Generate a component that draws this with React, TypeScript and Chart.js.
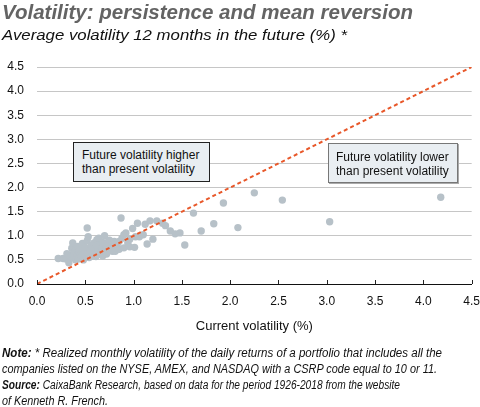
import { useEffect, useLayoutEffect, useRef } from "react"
import { Chart, registerables } from "chart.js"

Chart.register(...registerables)

// Volatilidad actual (eje X) y volatilidad media 12 meses después (eje Y), en %
const currentVol = [
  0.22, 0.27, 0.30, 0.31, 0.33, 0.35, 0.36, 0.37, 0.38, 0.38, 0.40, 0.40, 0.42, 0.42, 0.43, 0.44,
  0.45, 0.45, 0.46, 0.47, 0.48, 0.48, 0.50, 0.50, 0.51, 0.52, 0.52, 0.53, 0.53, 0.54, 0.55, 0.55,
  0.56, 0.57, 0.58, 0.58, 0.59, 0.60, 0.61, 0.62, 0.62, 0.63, 0.64, 0.65, 0.66, 0.67, 0.68, 0.68,
  0.70, 0.70, 0.72, 0.72, 0.74, 0.75, 0.76, 0.78, 0.78, 0.80, 0.81, 0.83, 0.85, 0.85, 0.87, 0.88,
  0.90, 0.90, 0.92, 0.94, 0.96, 0.96, 0.99, 1.01, 1.02, 1.04, 1.06, 1.10, 1.12, 1.14, 1.17, 1.20,
  1.24, 1.30, 1.33, 1.38, 1.43, 1.48, 1.53, 1.62, 1.70, 1.83, 1.93, 2.08, 2.25, 2.54, 3.03, 4.18,
]
const futureVol = [
  0.53, 0.53, 0.52, 0.63, 0.44, 0.58, 0.74, 0.85, 0.55, 0.66, 0.50, 0.70, 0.60, 0.78, 0.52, 0.65,
  0.72, 0.60, 0.57, 0.84, 0.62, 0.50, 0.68, 0.76, 0.58, 1.16, 0.90, 0.98, 0.63, 0.55, 0.72, 0.62,
  0.80, 0.66, 0.58, 0.70, 0.85, 0.74, 0.57, 0.92, 0.80, 0.68, 0.95, 0.80, 0.62, 0.74, 0.86, 0.58,
  1.00, 0.68, 0.62, 0.78, 0.88, 0.91, 0.72, 0.82, 0.68, 0.88, 0.68, 0.78, 0.88, 0.72, 1.37, 0.95,
  1.02, 0.75, 1.06, 0.85, 0.93, 0.77, 1.15, 0.76, 0.98, 1.26, 0.98, 1.02, 1.24, 0.83, 1.31, 0.93,
  1.31, 1.26, 1.21, 1.10, 1.04, 1.06, 0.81, 1.47, 1.10, 1.25, 1.68, 1.17, 1.89, 1.74, 1.29, 1.80,
]

// Línea de 45 grados (volatilidad futura = actual)
const diagonalX = [0, 4.5]
const diagonalY = [0, 4.5]

const axisMin = 0
const axisMax = 4.5
const axisStep = 0.5

const fontFamily = "'Liberation Sans', Arial, sans-serif"

// Marcas del eje X hacia dentro del gráfico
const innerTicks = {
  id: "innerTicks",
  afterDatasetsDraw(chart: Chart) {
    const x = chart.scales.x
    const ctx = chart.ctx
    const y0 = chart.chartArea.bottom
    ctx.save()
    ctx.strokeStyle = "#222"
    ctx.lineWidth = 1
    for (const t of x.ticks) {
      const px = Math.round(x.getPixelForValue(t.value)) + 0.5
      ctx.beginPath()
      ctx.moveTo(px, y0)
      ctx.lineTo(px, y0 - 4)
      ctx.stroke()
    }
    ctx.restore()
  },
}

function VolatilityChart() {
  const chartRef = useRef<HTMLCanvasElement>(null)
  const chartInstance = useRef<Chart | null>(null)

  useEffect(() => {
    if (!chartRef.current) return
    if (chartInstance.current) chartInstance.current.destroy()

    const ctx = chartRef.current.getContext("2d")
    if (!ctx) return

    chartInstance.current = new Chart(ctx, {
      type: "scatter",
      data: {
        datasets: [
          {
            type: "line",
            label: "45º",
            data: diagonalX.map((x, i) => ({ x, y: diagonalY[i] })),
            borderColor: "#e8582a",
            borderWidth: 2,
            borderDash: [4, 3],
            pointRadius: 0,
            fill: false,
            order: 0,
          },
          {
            label: "Volatility",
            data: currentVol.map((x, i) => ({ x, y: futureVol[i] })),
            backgroundColor: "#b7c1c8",
            borderWidth: 0,
            pointRadius: 3.7,
            order: 1,
          },
        ],
      },
      options: {
        responsive: false,
        animation: false,
        layout: { padding: { top: 67, right: 1.5, bottom: 73, left: 0 } },
        plugins: {
          legend: { display: false },
          tooltip: { enabled: false },
        },
        scales: {
          x: {
            type: "linear",
            min: axisMin,
            max: axisMax,
            afterFit: (s) => {
              s.height = 50
            },
            ticks: {
              stepSize: axisStep,
              padding: 0,
              color: "#111",
              font: { family: fontFamily, size: 12 },
              callback: (v) => Number(v).toFixed(1),
              maxRotation: 0,
            },
            // marcas invisibles: sólo separan las etiquetas del eje
            grid: { display: false, drawTicks: true, tickLength: 10 },
            border: { display: true, color: "#111", width: 1 },
            title: {
              display: true,
              text: "Current volatility (%)",
              color: "#111",
              font: { family: fontFamily, size: 13 },
              padding: { top: 0, bottom: 0 },
            },
          },
          y: {
            type: "linear",
            min: axisMin,
            max: axisMax,
            afterFit: (s) => {
              s.width = 37
            },
            ticks: {
              stepSize: axisStep,
              padding: 13,
              color: "#111",
              font: { family: fontFamily, size: 12 },
              callback: (v) => Number(v).toFixed(1),
            },
            grid: { color: "#c6c6c6", lineWidth: 1, drawTicks: false },
            border: { display: false },
          },
        },
      },
      plugins: [innerTicks],
    })

    return () => {
      if (chartInstance.current) {
        chartInstance.current.destroy()
        chartInstance.current = null
      }
    }
  }, [])

  return <canvas ref={chartRef} width={480} height={407} style={{ position: "absolute", left: 0, top: 0 }} />
}

// Texto estirado/comprimido horizontalmente hasta un ancho dado
function FitLine({ width, children }: { width: number; children: React.ReactNode }) {
  const ref = useRef<HTMLSpanElement>(null)
  useLayoutEffect(() => {
    const el = ref.current
    if (!el) return
    el.style.transform = "none"
    const w = el.getBoundingClientRect().width
    if (w > 0) el.style.transform = `scaleX(${width / w})`
  }, [width])
  return (
    <span ref={ref} style={{ display: "inline-block", whiteSpace: "nowrap", transformOrigin: "0 0" }}>
      {children}
    </span>
  )
}

const boxStyle: React.CSSProperties = {
  position: "absolute",
  boxSizing: "border-box",
  background: "#e9eef2",
  fontFamily,
  fontSize: 12,
  lineHeight: "14px",
  color: "#111",
  whiteSpace: "nowrap",
}

const noteStyle: React.CSSProperties = {
  position: "absolute",
  left: 2,
  top: 345,
  fontFamily,
  fontStyle: "italic",
  fontSize: 12,
  lineHeight: "16px",
  color: "#111",
}

export default function App() {
  return (
    <div style={{ position: "absolute", left: 0, top: 0, width: 480, height: 407, background: "#fff", overflow: "hidden" }}>
      <VolatilityChart />
      <div
        style={{
          position: "absolute",
          left: 2,
          top: 2,
          fontFamily,
          fontWeight: "bold",
          fontStyle: "italic",
          fontSize: 20,
          lineHeight: "20px",
          color: "#646464",
        }}
      >
        <FitLine width={411}>Volatility: persistence and mean reversion</FitLine>
      </div>
      <div
        style={{
          position: "absolute",
          left: 2,
          top: 27,
          fontFamily,
          fontStyle: "italic",
          fontSize: 15.5,
          lineHeight: "16px",
          color: "#111",
        }}
      >
        <FitLine width={345}>Average volatility 12 months in the future (%) *</FitLine>
      </div>
      <div style={{ ...boxStyle, left: 73, top: 142, width: 137, height: 40, border: "1px solid #222", padding: "5px 0 0 8px" }}>
        Future volatility higher
        <br />
        than present volatility
      </div>
      <div
        style={{
          ...boxStyle,
          left: 328,
          top: 143,
          width: 130,
          height: 40,
          border: "1px solid #777",
          boxShadow: "1px 1px 0 #aaa",
          padding: "6px 0 0 7px",
        }}
      >
        Future volatility lower
        <br />
        than present volatility
      </div>
      <div style={noteStyle}>
        <FitLine width={440}>
          <b>Note:</b> * Realized monthly volatility of the daily returns of a portfolio that includes all the
        </FitLine>
        <br />
        <FitLine width={435}>
          companies listed on the NYSE, AMEX, and NASDAQ with a CSRP code equal to 10 or 11.
        </FitLine>
        <br />
        <FitLine width={398}>
          <b>Source:</b> CaixaBank Research, based on data for the period 1926-2018 from the website
        </FitLine>
        <br />
        <FitLine width={106}>of Kenneth R. French.</FitLine>
      </div>
    </div>
  )
}
